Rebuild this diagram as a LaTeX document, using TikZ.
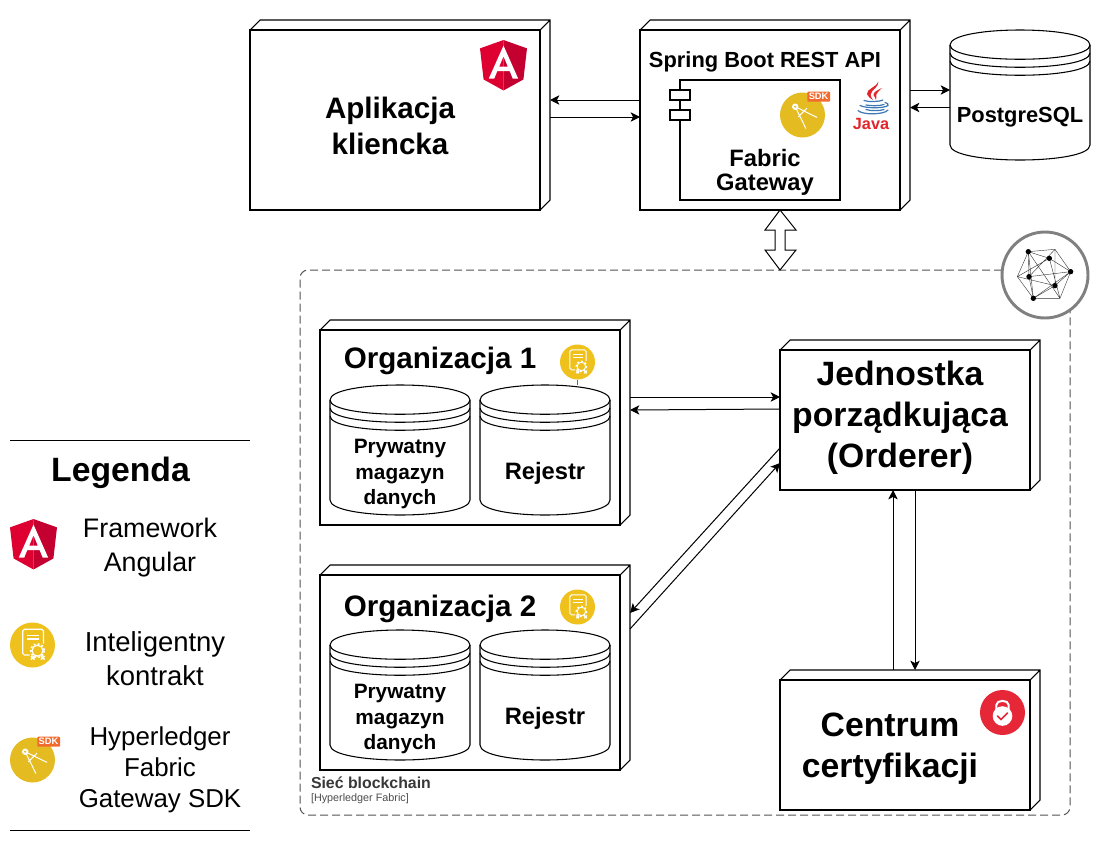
\documentclass[tikz,border=0pt]{standalone}
\usepackage{fontspec}
\setmainfont{Liberation Sans}
\usetikzlibrary{arrows.meta,calc}
\definecolor{ngred}{HTML}{DD0031}
\definecolor{ngdark}{HTML}{C3002F}
\definecolor{ctyellow}{HTML}{EFC11D}
\definecolor{sdkyellow}{HTML}{E5BB22}
\definecolor{sdkorange}{HTML}{F26B2E}
\definecolor{careda}{HTML}{E62737}
\definecolor{javared}{HTML}{E2252B}
\definecolor{javablue}{HTML}{3B78B5}
\tikzset{
  x=0.75pt,y=-0.75pt,
  umlfront/.style={draw=black,line width=0.8pt,inner sep=0pt,outer sep=0pt,fill=white},
  umledge/.style={draw=black,line width=0.8pt,line join=miter},
  flow/.style={draw=black,line width=0.75pt,-{Stealth[length=7pt,width=7pt,inset=1.8pt]}},
  holder/.style={inner sep=0pt,outer sep=0pt,draw=none},
  txt/.style={inner sep=0pt,outer sep=0pt,align=center,text=black},
  bold30/.style={txt,font=\fontsize{22.2}{27}\selectfont\bfseries},
  bold34/.style={txt,font=\fontsize{25.3}{30.8}\selectfont\bfseries},
  bold24/.style={txt,font=\fontsize{17.8}{18}\selectfont\bfseries},
  bold22/.style={txt,font=\fontsize{16.4}{20}\selectfont\bfseries},
  bold21/.style={txt,font=\fontsize{15.6}{18.9}\selectfont\bfseries},
  reg27/.style={txt,font=\fontsize{20.1}{25.5}\selectfont},
  regct/.style={txt,font=\fontsize{20.6}{25.5}\selectfont},
  reg26/.style={txt,font=\fontsize{19.4}{23.2}\selectfont},
  legendline/.style={draw=black,line width=0.7pt},
}
\newcommand{\umlbox}[5]{%
  \node[umlfront,minimum width={(#4-#2)*0.75pt},minimum height={(#5-#3)*0.75pt}] (#1) at ({(#2+#4)/2},{(#3+#5)/2}) {};
  \draw[umledge] (#1.north west)--([shift={(10,-10)}]#1.north west)--([shift={(10,-10)}]#1.north east)--([shift={(10,-10)}]#1.south east)--(#1.south east)
    (#1.north east)--([shift={(10,-10)}]#1.north east);
}
\newcommand{\datastore}[5]{%
  \node[holder,minimum width={(#4-#2)*0.75pt},minimum height={(#5-#3)*0.75pt}] (#1) at ({(#2+#4)/2},{(#3+#5)/2}) {};
  \begin{scope}[shift={(#2,#3)}]
  \pgfmathsetmacro{\dw}{#4-#2}\pgfmathsetmacro{\dh}{#5-#3}
  \draw[umledge,fill=white] (0,15) .. controls (0,-5) and (\dw,-5) .. (\dw,15) -- (\dw,\dh-15) .. controls (\dw,\dh+5) and (0,\dh+5) .. (0,\dh-15) -- cycle;
  \draw[umledge] (0,15) .. controls (0,34) and (\dw,34) .. (\dw,15)
     (0,23) .. controls (0,42) and (\dw,42) .. (\dw,23)
     (0,31) .. controls (0,50) and (\dw,50) .. (\dw,31);
  \end{scope}
}
% #1 x left, #2 y top
\newcommand{\angularicon}[2]{%
  \begin{scope}[shift={(#1,#2)},scale=0.2524]
  \fill[ngred] (93.1,0)--(0,33.2)--(14.2,156.3)--(93.1,200)--cycle;
  \fill[ngdark] (93.1,0)--(186.2,33.2)--(172,156.3)--(93.1,200)--cycle;
  \fill[white,even odd rule] (93.1,22.1)--(34.9,152.6)--(56.6,152.6)--(68.3,123.4)--(117.7,123.4)--(129.4,152.6)--(151.1,152.6)--cycle
     (110.1,105.4)--(76.1,105.4)--(93.1,64.5)--cycle;
  \end{scope}
}
% #1 cx, #2 cy, #3 scale (1 = radius 22.5)
\newcommand{\contracticon}[3]{%
  \begin{scope}[shift={(#1,#2)},scale=#3]
  \fill[ctyellow] (0,0) circle (22.5);
  \draw[white,line width={0.9pt*#3},rounded corners=1.2pt] (-3,10)--(-9.7,10)--(-9.7,-15.7)--(11,-15.7)--(11,-1.5);
  \draw[white,line width={0.8pt*#3}] (-5.5,-9.5)--(6.5,-9.5) (-5.5,-6)--(6.5,-6);
  \draw[white,line width={0.9pt*#3}] (5,5.7) circle (5.5);
  \draw[white,line width={1.2pt*#3},dash pattern=on 1.4pt off 1.6pt] (5,5.7) circle (6.8);
  \draw[white,line width={1.2pt*#3}] (-1.5,11)--(2,14.5) (2,11)--(-1.5,14.5) (8.5,11)--(12,14.5) (12,11)--(8.5,14.5);
  \end{scope}
}
\newcommand{\sdkicon}[2]{%
  \begin{scope}[shift={(#1,#2)}]
  \fill[sdkyellow] (0,0) circle (22.5);
  \draw[white,line width=0.75pt,line cap=round] (-7.3,-8.3)--(3.3,13.3) (-7.3,-8.3)--(14.3,2.3) (-4,1.7)--(4.3,-6.7);
  \fill[white] (-7.3,-8.3) circle (3.2);
  \fill[sdkyellow] (-7.3,-8.3) circle (1.2);
  \fill[sdkorange,rounded corners=0.6pt] (4.8,-23.3) rectangle (27.5,-13.3);
  \node[txt,text=white,font=\fontsize{7}{8}\selectfont\bfseries] (#1sdk#2) at (16.1,-18.3) {SDK};
  \end{scope}
}
\begin{document}
\begin{tikzpicture}
\useasboundingbox (0,0) rectangle (1100,850);

% network boundary
\node[holder,draw=black!68,dash pattern=on 6pt off 3pt,line width=0.75pt,rounded corners=6pt,minimum width={770*0.75pt},minimum height={545*0.75pt}] (net) at (685,542.5) {};

% top row
\umlbox{app}{250}{30}{540}{210}
\node[bold30] (appt) at (390,125.5) {Aplikacja\\kliencka};
\angularicon{480}{40}

\umlbox{api}{640}{30}{900}{210}
\node[bold22] (apit) at (765,62) {Spring Boot REST API};
\node[umlfront,minimum width={160*0.75pt},minimum height={120*0.75pt}] (gw) at (760,140) {};
\node[umlfront,minimum width={20*0.75pt},minimum height={10*0.75pt}] (tab1) at (680,95) {};
\node[umlfront,minimum width={20*0.75pt},minimum height={10*0.75pt}] (tab2) at (680,115) {};
\node[bold24] (gwt) at (765,172) {Fabric\\Gateway};
\sdkicon{802.5}{115}

% java logo
\begin{scope}[line cap=round]
\fill[javared] (878.5,81.5) .. controls (877,87) and (866,89) .. (867,94) .. controls (867.5,96.5) and (870,98) .. (873,100) .. controls (870,96) and (870,93.5) .. (872,91.5) .. controls (874,89) and (878,87) .. (878.5,81.5) -- cycle;
\fill[javared] (882,88) .. controls (878,90) and (873,92) .. (873.5,95) .. controls (874,97) and (876,98) .. (876,100) .. controls (877,97.5) and (876,95) .. (876.5,94) .. controls (877,92) and (880,90.5) .. (882,88) -- cycle;
\draw[javablue,line width=0.9pt] (864,100.5) .. controls (868,102) and (878,102) .. (883,100);
\draw[javablue,line width=0.9pt] (860,105.5) .. controls (866,108.5) and (884,108.5) .. (888,105.5) .. controls (889,104) and (887,103) .. (885,102.5);
\draw[javablue,line width=0.9pt] (866,105) .. controls (870,106) and (880,106) .. (884,104.5);
\draw[javablue,line width=0.9pt] (858,110.5) .. controls (862,115) and (884,115) .. (888,110);
\draw[javablue,line width=0.9pt] (866,109.5) .. controls (870,111) and (880,111) .. (884,109.5);
\end{scope}
\node[txt,text=javared,font=\fontsize{12.2}{14}\selectfont\bfseries] (javat) at (871,123.5) {Java};

\datastore{pg}{950}{30}{1090}{160}
\node[bold22] (pgt) at (1020,117) {PostgreSQL};

% top connectors
\draw[flow] ([shift={(0,-20)}]api.west) -- ([shift={(10,-20)}]app.east);
\draw[flow] ([shift={(10,-3)}]app.east) -- ([shift={(0,-3)}]api.west);
\draw[flow] ([shift={(10,-30)}]api.east) -- ([shift={(0,-5)}]pg.west);
\draw[flow] ([shift={(0,12.5)}]pg.west) -- ([shift={(10,-12.5)}]api.east);

% double arrow
\draw[draw=black,line width=0.75pt,fill=white] (780,210)--(796,230)--(785,230)--(785,250)--(796,250)--(780,270)--(765,250)--(775,250)--(775,230)--(765,230)--cycle;

% hyperledger logo
\node[holder,circle,draw=black!50,line width=2.2pt,fill=white,minimum size={86*0.75pt}] (hl) at (1045,275) {};
\begin{scope}[shift={(960,220)},scale=0.3333,line width=0.3pt,draw=black!80]
\draw (205,95)--(285,88)--(332,155)--(300,235)--(220,235)--(172,170)--cycle;
\draw (205,95)--(268,115)--(332,155)--(285,197)--(220,235)--(207,170)--cycle;
\draw (205,95)--(220,235) (285,88)--(207,170) (285,88)--(285,197) (172,170)--(268,115) (172,170)--(285,197) (207,170)--(332,155) (268,115)--(300,235) (220,235)--(332,155) (205,95)--(300,235);
\foreach \px/\py in {205/95,268/115,332/155,207/170,285/197,220/235}{\fill[black] (\px,\py) circle (8);}
\end{scope}

% organisation 1
\umlbox{orga}{320}{330}{620}{525}
\node[bold30] (orgat) at (440,361) {Organizacja 1};
\datastore{pda}{330}{385}{470}{515}
\node[bold21] (pdat) at (400,474) {Prywatny\\magazyn\\danych};
\datastore{lda}{480}{385}{610}{515}
\node[bold24] (ldat) at (545,473) {Rejestr};
\contracticon{577.5}{362}{0.778}
\draw[black!60,line width=0.9pt] (577.5,379.5) -- (lda.north -| 577.5,379.5);

% organisation 2
\umlbox{orgb}{320}{575}{620}{770}
\node[bold30] (orgbt) at (440,608.5) {Organizacja 2};
\datastore{pdb}{330}{630}{470}{760}
\node[bold21] (pdbt) at (400,719) {Prywatny\\magazyn\\danych};
\datastore{ldb}{480}{630}{610}{760}
\node[bold24] (ldbt) at (545,718) {Rejestr};
\contracticon{577.5}{607}{0.778}

% orderer and CA
\umlbox{ord}{780}{350}{1030}{490}
\node[bold34] (ordt) at (900,418) {Jednostka\\porządkująca\\(Orderer)};
\umlbox{ca}{780}{680}{1030}{810}
\node[bold34] (cat) at (890,749) {Centrum\\certyfikacji};
\fill[careda] (1002.5,712.5) circle (22.5);
\fill[white] (1002.5,716) circle (9.8);
\draw[white,line width=1.5pt] (996.3,710) -- (996.3,705) .. controls (996.3,699.5) and (1008.7,699.5) .. (1008.7,705) -- (1008.7,710);
\draw[careda,line width=1.3pt,line cap=round] (997.5,716) -- (1001,719.5) -- (1007.5,713);

% connectors
\draw[flow] ([shift={(10,-30.5)}]orga.east) -- ([shift={(0,-23)}]ord.west);
\draw[flow] ([shift={(0,-11)}]ord.west) -- ([shift={(10,-17.5)}]orga.east);
\draw[flow] ([shift={(0,28)}]ord.west) -- ([shift={(10,-59.5)}]orgb.east);
\draw[flow] ([shift={(10,-43.5)}]orgb.east) -- ([shift={(0,43)}]ord.west);
\draw[flow] ([shift={(-12,-10)}]ca.north) -- ([shift={(-12,0)}]ord.south);
\draw[flow] ([shift={(10,0)}]ord.south) -- ([shift={(10,-10)}]ca.north);

% boundary caption
\node[txt,anchor=west,text=black!78,font=\fontsize{11.9}{14}\selectfont\bfseries] (nett) at (311,782.5) {Sieć blockchain};
\node[txt,anchor=west,text=black!70,font=\fontsize{8.1}{10}\selectfont] (netsub) at (311,798.5) {[Hyperledger Fabric]};

% legend
\draw[legendline] (10,440) coordinate (la) -- (250,440) coordinate (lb);
\draw[legendline] (10,830) coordinate (lc) -- (250,830) coordinate (ld);
\node[bold34] (legt) at (120.5,473) {Legenda};
\angularicon{10}{519}
\node[reg27] (legang) at (150,547.5) {Framework\\Angular};
\contracticon{32.5}{645}{1}
\node[regct] (legct) at (155,659) {Inteligentny\\kontrakt};
\sdkicon{32.5}{760}
\node[reg26] (legsdk) at (160,770) {Hyperledger\\Fabric\\Gateway SDK};
\end{tikzpicture}
\end{document}
